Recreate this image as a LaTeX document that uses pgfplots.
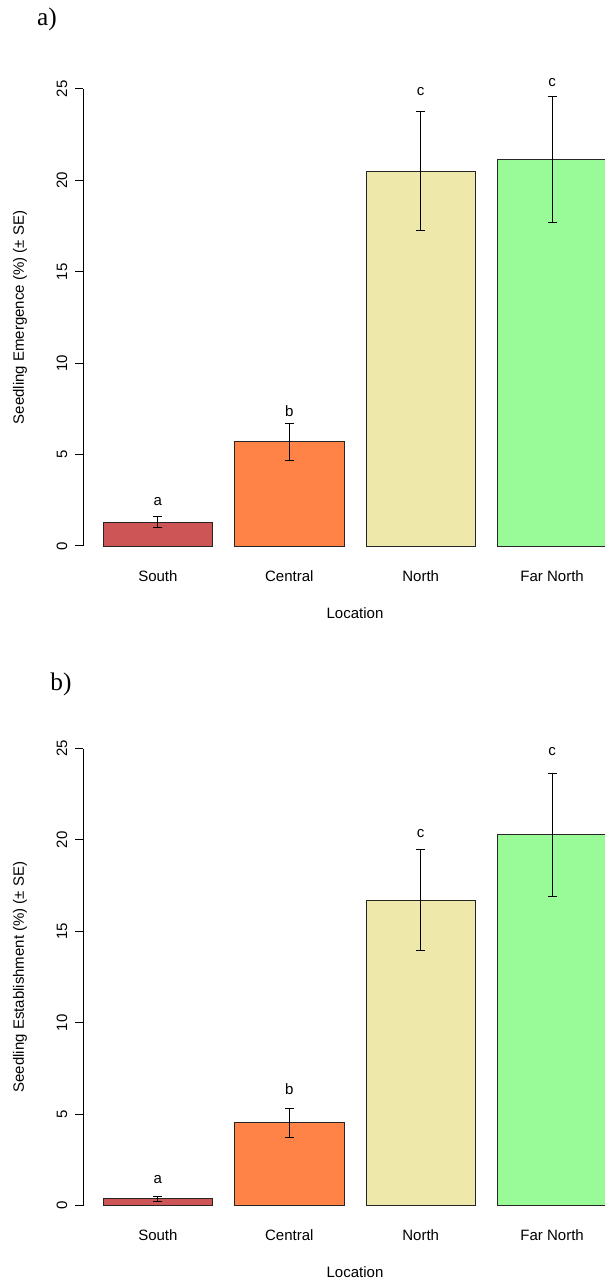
\documentclass[border=0pt]{standalone}
\usepackage{fontspec}
\setmainfont{Liberation Sans}
\newfontfamily\timesf{Liberation Serif}
\usepackage{pgfplots}
\pgfplotsset{compat=1.18}
\definecolor{southc}{RGB}{205,85,85}
\definecolor{centralc}{RGB}{255,130,71}
\definecolor{northc}{RGB}{238,232,170}
\definecolor{farc}{RGB}{152,251,152}
\pgfplotsset{
  panel/.style={
    scale only axis, width=408pt, height=342.75pt,
    xmin=0.016, xmax=4.984, ymin=0, ymax=25,
    axis y line=left, axis x line=bottom,
    x axis line style={draw=none},
    y axis line style={-, line width=0.75pt, black},
    xtick={0.7,1.9,3.1,4.3},
    xticklabels={South,Central,North,Far North},
    x tick style={draw=none},
    ytick={0,5,10,15,20,25},
    tick align=outside, major tick length=6pt,
    y tick style={line width=0.75pt, black},
    /pgf/number format/assume math mode=true,
    tick label style={font=\fontsize{11.25}{13}\selectfont},
    label style={font=\fontsize{11.25}{13}\selectfont},
    yticklabel style={rotate=90, anchor=center, yshift=9.75pt},
    xticklabel style={anchor=center, yshift=-16.5pt},
    xlabel={Location},
    xlabel style={at={(axis description cs:0.5,-0.1466)}, anchor=center},
    ylabel style={at={(axis description cs:-0.1158,0.5)}, anchor=center},
    clip=false,
  },
  mybar/.style={ybar, bar width=1, bar shift=0pt, fill=#1, draw=black!85, line width=0.6pt,
    error bars/.cd, y dir=both, y explicit,
    error bar style={black, line width=0.75pt},
    error mark options={black, mark size=3.4pt, line width=0.75pt, rotate=90}},
  letters/.style={draw=none, nodes near coords, point meta=explicit symbolic,
    every node near coord/.append style={anchor=center, font=\fontsize{11.25}{13}\selectfont}},
}
\begin{document}
\begin{tikzpicture}
\path[use as bounding box] (0,0) rectangle (453pt,962.25pt);
\node[font=\timesf\fontsize{19}{22}\selectfont] at (35.25pt,948pt) {a)};
\node[font=\timesf\fontsize{19}{22}\selectfont] at (45.75pt,449.25pt) {b)};
\begin{axis}[panel, at={(62.25pt,552.75pt)}, anchor=south west,
  ylabel={Seedling Emergence (\%) (± SE)}]
\addplot[mybar=southc] coordinates {(0.7,1.31) +- (0,0.30)};
\addplot[mybar=centralc] coordinates {(1.9,5.71) +- (0,1.01)};
\addplot[mybar=northc] coordinates {(3.1,20.51) +- (0,3.25)};
\addplot[mybar=farc] coordinates {(4.3,21.15) +- (0,3.43)};
\addplot[letters] coordinates {(0.7,2.42)[a] (1.9,7.4)[b] (3.1,24.85)[c] (4.3,25.35)[c]};
\end{axis}
\begin{axis}[panel, at={(62.25pt,58.125pt)}, anchor=south west,
  ylabel={Seedling Establishment (\%) (± SE)}]
\addplot[mybar=southc] coordinates {(0.7,0.37) +- (0,0.13)};
\addplot[mybar=centralc] coordinates {(1.9,4.53) +- (0,0.80)};
\addplot[mybar=northc] coordinates {(3.1,16.70) +- (0,2.75)};
\addplot[mybar=farc] coordinates {(4.3,20.28) +- (0,3.36)};
\addplot[letters] coordinates {(0.7,1.43)[a] (1.9,6.37)[b] (3.1,20.36)[c] (4.3,24.86)[c]};
\end{axis}
\end{tikzpicture}
\end{document}
